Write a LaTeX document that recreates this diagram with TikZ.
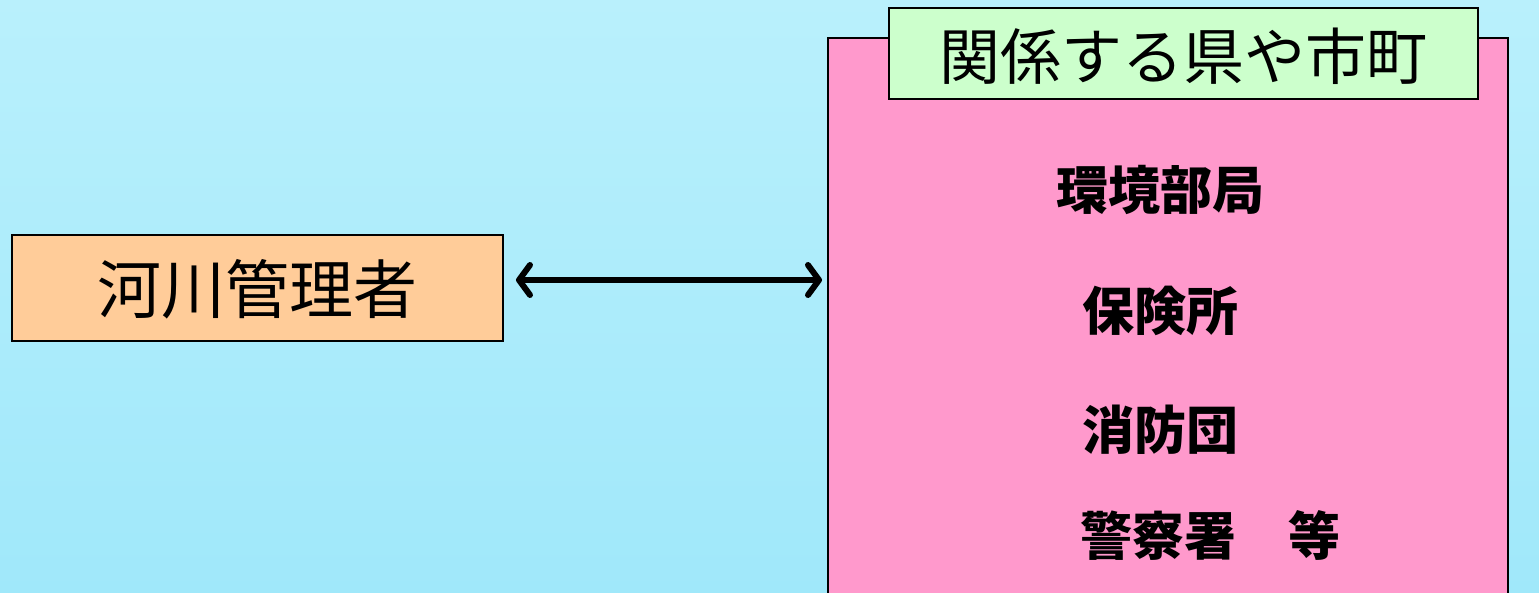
\documentclass[tikz,border=0pt]{standalone}
\usepackage{fontspec}
\newfontfamily\cjk{Noto Sans CJK JP}
\usetikzlibrary{arrows.meta}
\definecolor{bgcyan}{RGB}{160,232,250}
\definecolor{bglight}{RGB}{185,240,252}
\definecolor{orangebox}{RGB}{255,204,153}
\definecolor{pinkbox}{RGB}{255,153,204}
\definecolor{greenbox}{RGB}{204,255,204}
\tikzset{
  box/.style={draw=black, line width=1.2pt, inner sep=0pt, outer sep=0pt},
  bigtext/.style={font=\cjk\fontsize{61}{61}\selectfont, inner sep=0pt},
  itemtext/.style={font=\cjk\bfseries\fontsize{52}{52}\selectfont, inner sep=0pt},
  link/.style={line width=6pt, {Straight Barb[length=11pt,width=30pt,line width=6pt,round]}-{Straight Barb[length=11pt,width=30pt,line width=6pt,round]}}
}
\begin{document}
\begin{tikzpicture}[x=1pt,y=-1pt]
\useasboundingbox (0,0) rectangle (1539,592);
\clip (0,0) rectangle (1539,592);
\shade[top color=bglight, bottom color=bgcyan] (0,0) rectangle (1539,592);
% left box
\node[box, fill=orangebox, minimum width=491pt, minimum height=106pt, anchor=north west] (river) at (12,235) {};
\node[bigtext, font=\cjk\fontsize{64}{64}\selectfont] (rivertxt) at (257,289) {河川管理者};
% pink box
\node[box, fill=pinkbox, minimum width=680pt, minimum height=600pt, anchor=north west] (pref) at (828,38) {};
% green title box
\node[box, fill=greenbox, minimum width=589pt, minimum height=91pt, anchor=north west] (title) at (889,8) {};
\node[bigtext] (titletxt) at (1183.5,56) {関係する県や市町};
% items
\node[itemtext] (env) at (1160,190) {環境部局};
\node[itemtext] (health) at (1160,311) {保険所};
\node[itemtext] (fire) at (1160,430) {消防団};
\node[itemtext, anchor=west] (police) at (1080,535) {警察署　等};
% arrow
\coordinate (a1) at (516,280);
\coordinate (a2) at (822,280);
\draw[link] (a1) -- (a2);
\end{tikzpicture}
\end{document}
